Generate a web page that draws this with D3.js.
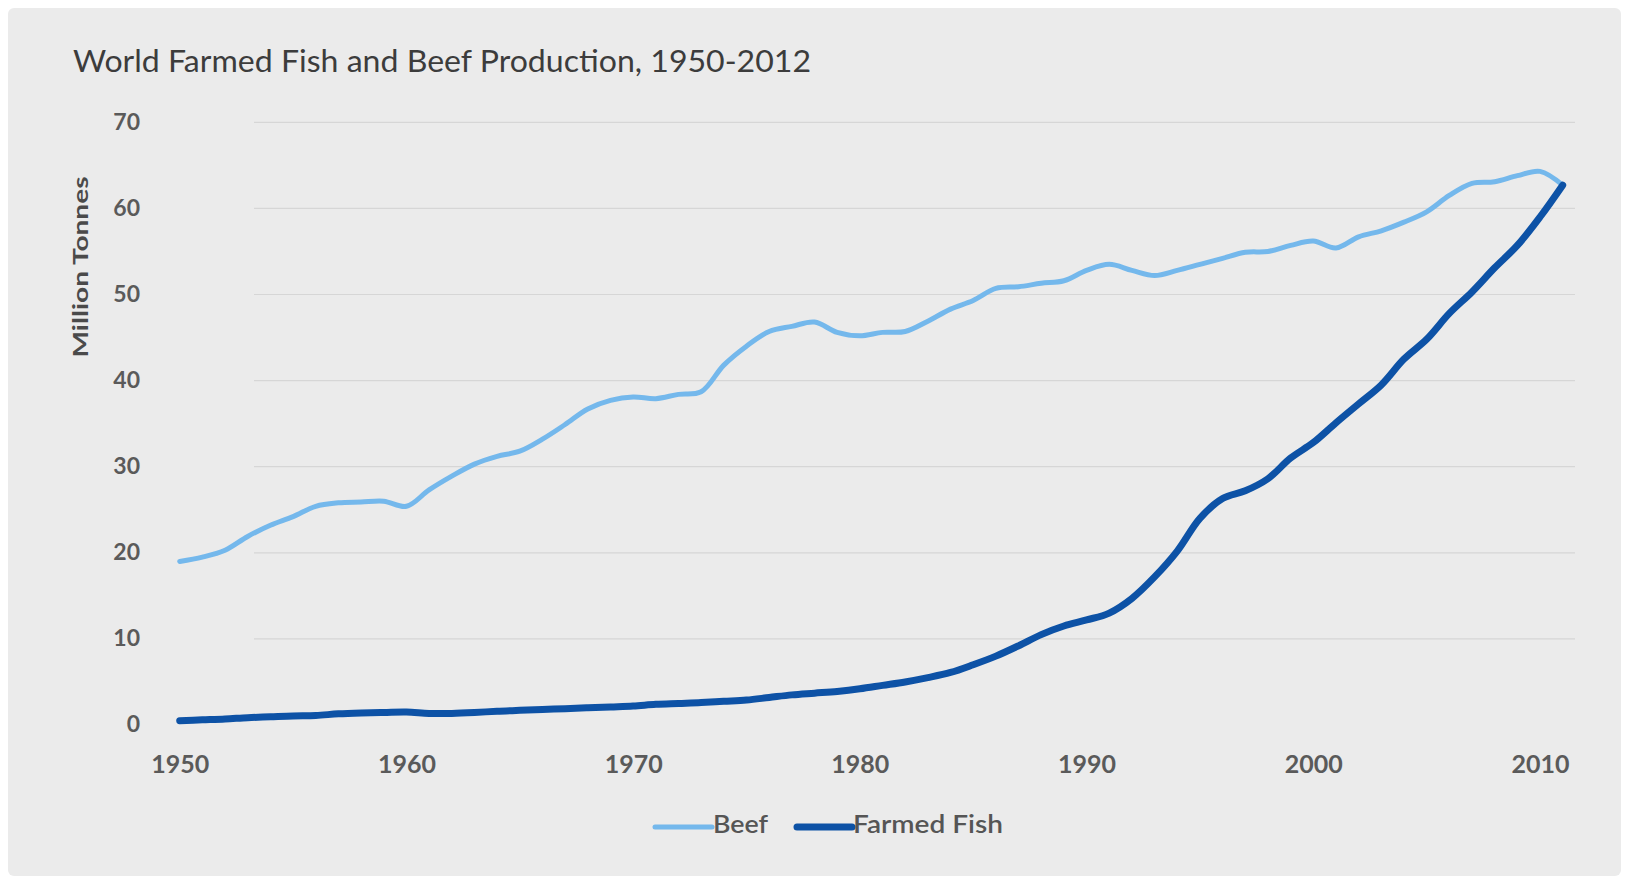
<!DOCTYPE html>
<html>
<head>
<meta charset="utf-8">
<script src="https://cdn.jsdelivr.net/npm/d3@7"></script>
<style>
  html, body { margin: 0; padding: 0; background: #ffffff; }
  svg { display: block; }
</style>
</head>
<body>
<svg id="chart" width="1629" height="879"></svg>
<script>
// ---- data ----
const years = d3.range(1950, 2012);
const beef = [19.0, 19.5, 20.3, 21.9, 23.2, 24.2, 25.4, 25.8, 25.9, 26.0,
              25.4, 27.3, 28.9, 30.3, 31.2, 31.8, 33.2, 34.9, 36.7, 37.7,
              38.1, 37.9, 38.4, 38.7, 41.8, 44.0, 45.7, 46.3, 46.8, 45.6,
              45.2, 45.6, 45.7, 46.9, 48.3, 49.3, 50.7, 50.9, 51.3, 51.6,
              52.8, 53.5, 52.8, 52.2, 52.8, 53.5, 54.2, 54.9, 55.0, 55.7,
              56.2, 55.4, 56.7, 57.4, 58.4, 59.6, 61.5, 62.9, 63.1, 63.8,
              64.3, 62.7];
const farmedFish = [0.5, 0.6, 0.7, 0.85, 0.95, 1.05, 1.1, 1.3, 1.4, 1.45,
                    1.5, 1.35, 1.35, 1.45, 1.6, 1.7, 1.8, 1.9, 2.0, 2.1,
                    2.2, 2.4, 2.5, 2.6, 2.75, 2.9, 3.2, 3.5, 3.7, 3.9,
                    4.2, 4.6, 5.0, 5.5, 6.1, 7.0, 8.0, 9.2, 10.5, 11.5,
                    12.2, 13.0, 14.7, 17.2, 20.2, 24.0, 26.3, 27.2, 28.6, 31.0,
                    32.8, 35.1, 37.3, 39.5, 42.5, 44.8, 47.8, 50.3, 53.1, 55.7,
                    59.0, 62.7];
const xTicks = [1950, 1960, 1970, 1980, 1990, 2000, 2010];
const yTicks = [0, 10, 20, 30, 40, 50, 60, 70];
const seriesNames = ["Beef", "Farmed Fish"];
const titleText = "World Farmed Fish and Beef Production, 1950-2012";
const yTitle = "Million Tonnes";

// ---- layout ----
const svg = d3.select("#chart");
const colors = {"Beef": "#74b8ec", "Farmed Fish": "#0d52a6"};
const widths = {"Beef": 5, "Farmed Fish": 7};
const font = "Lato, 'Open Sans', 'Liberation Sans', sans-serif";

svg.append("rect").attr("x", 8).attr("y", 8).attr("width", 1613).attr("height", 868)
  .attr("rx", 6).attr("fill", "#ebebeb");

const x = d3.scaleLinear().domain([1950, 2010]).range([179.7, 1540]);
const y = d3.scaleLinear().domain([0, 70]).range([725, 122.3]);

// gridlines
svg.append("g").selectAll("line").data(yTicks.filter(d => d > 0)).join("line")
  .attr("x1", 254).attr("x2", 1575)
  .attr("y1", d => y(d)).attr("y2", d => y(d))
  .attr("stroke", "#d6d6d6").attr("stroke-width", 1.2);

// y axis labels
const yAxis = d3.axisLeft(y).tickValues(yTicks).tickSize(0).tickPadding(0);
const gy = svg.append("g").attr("transform", "translate(140,0)").call(yAxis);
gy.select(".domain").remove();
gy.selectAll("text").attr("font-family", font).attr("font-size", 23).attr("font-weight", "bold")
  .attr("fill", "#5a5a5a").attr("dy", "0.3em");

// x axis labels
const xAxis = d3.axisBottom(x).tickValues(xTicks).tickFormat(d3.format("d")).tickSize(0).tickPadding(0);
const gx = svg.append("g").attr("transform", "translate(0,755)").call(xAxis);
gx.select(".domain").remove();
gx.selectAll("text").attr("font-family", font).attr("font-size", 25).attr("font-weight", "bold")
  .attr("fill", "#5a5a5a").attr("dy", "0.72em");

// title
svg.append("text").attr("x", 73).attr("y", 72)
  .attr("font-family", font).attr("font-size", 30).attr("fill", "#3c3c3c")
  .attr("textLength", 738).attr("lengthAdjust", "spacingAndGlyphs")
  .text(titleText);

// y title
svg.append("text").attr("transform", "translate(88,267) rotate(-90)")
  .attr("text-anchor", "middle")
  .attr("font-family", font).attr("font-size", 21).attr("font-weight", "bold").attr("fill", "#4a4a4a")
  .attr("textLength", 181).attr("lengthAdjust", "spacingAndGlyphs")
  .text(yTitle);

// lines
const line = d3.line().x((d, i) => x(years[i])).y(d => y(d)).curve(d3.curveCatmullRom.alpha(0.5));
const seriesData = {"Beef": beef, "Farmed Fish": farmedFish};
seriesNames.forEach(name => {
  svg.append("path").datum(seriesData[name])
    .attr("d", line).attr("fill", "none")
    .attr("stroke", colors[name]).attr("stroke-width", widths[name])
    .attr("stroke-linejoin", "round").attr("stroke-linecap", "round");
});

// legend
const legendItems = [
  {name: "Beef", x1: 655, x2: 712, tx: 713, len: 55},
  {name: "Farmed Fish", x1: 797, x2: 852, tx: 853, len: 150}
];
const lg = svg.append("g");
legendItems.forEach(it => {
  lg.append("line").attr("x1", it.x1).attr("x2", it.x2).attr("y1", 827).attr("y2", 827)
    .attr("stroke", colors[it.name]).attr("stroke-width", widths[it.name]).attr("stroke-linecap", "round");
  lg.append("text").attr("x", it.tx).attr("y", 833)
    .attr("font-family", font).attr("font-size", 25).attr("font-weight", 600).attr("fill", "#555555")
    .attr("textLength", it.len).attr("lengthAdjust", "spacingAndGlyphs")
    .text(it.name);
});
</script>
</body>
</html>
